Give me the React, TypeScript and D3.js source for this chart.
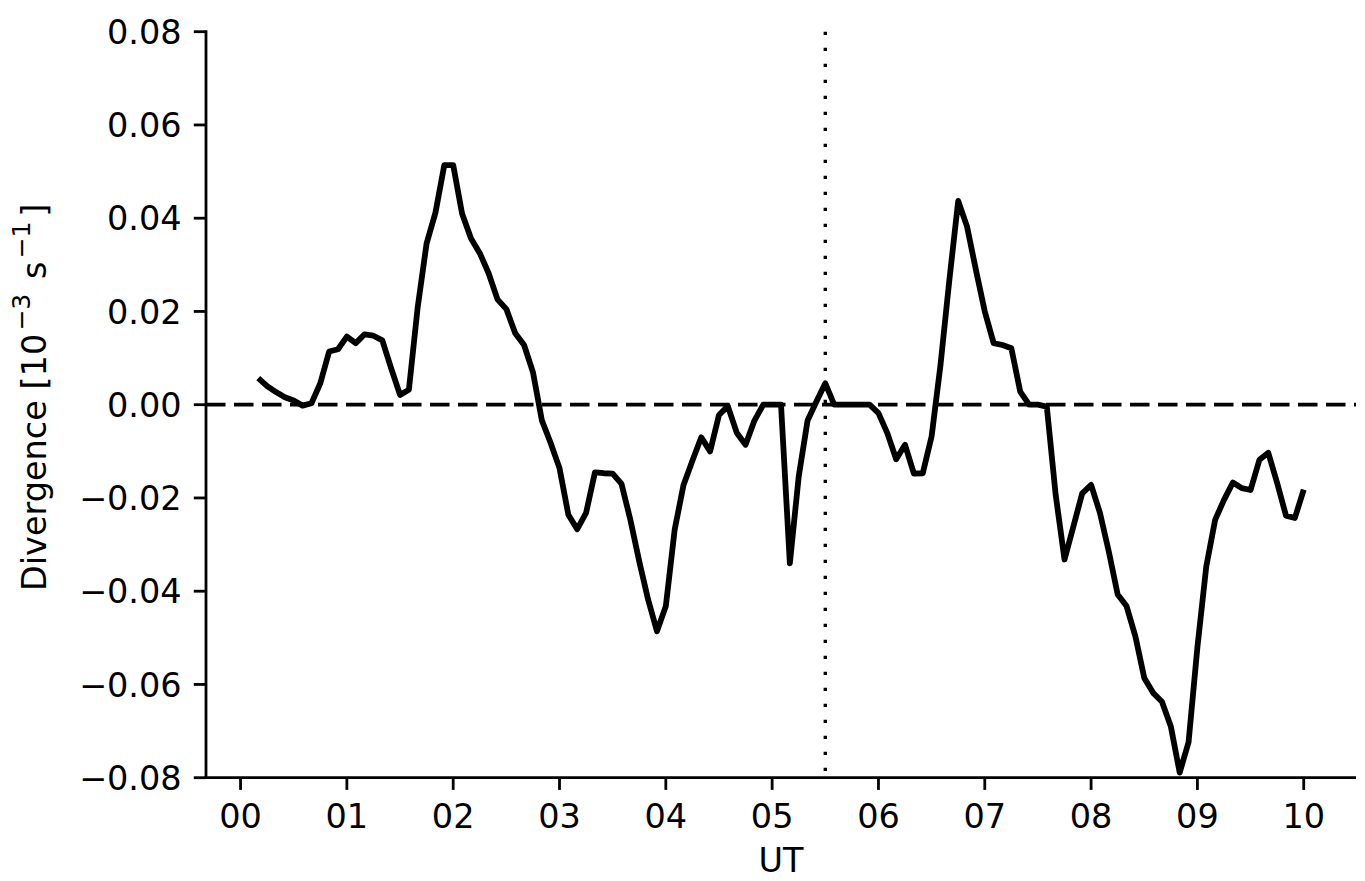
import React from "react";
import * as d3 from "d3";

// time in minutes UT, every 5 minutes from 00:10 to 10:00
const minutes: number[] = d3.range(10, 605, 5);
// divergence values [10^-3 s^-1]
const divergence: number[] = [
  0.0057, 0.0040, 0.0027, 0.0016, 0.0009, -0.0002, 0.0003, 0.0046, 0.0114, 0.0119,
  0.0146, 0.0132, 0.0151, 0.0148, 0.0138, 0.0078, 0.0021, 0.0032, 0.0210, 0.0346,
  0.0412, 0.0514, 0.0514, 0.0410, 0.0357, 0.0325, 0.0282, 0.0226, 0.0205, 0.0153,
  0.0128, 0.0070, -0.0033, -0.0082, -0.0136, -0.0236, -0.0267, -0.0232, -0.0145, -0.0147,
  -0.0148, -0.0170, -0.0247, -0.0336, -0.0418, -0.0486, -0.0432, -0.0268, -0.0172, -0.0120,
  -0.0070, -0.0100, -0.0022, -0.0003, -0.0060, -0.0086, -0.0034, 0.0, 0.0, 0.0,
  -0.0340, -0.0154, -0.0034, 0.0007, 0.0046, 0.0, 0.0, 0.0, 0.0, 0.0,
  -0.0018, -0.0061, -0.0117, -0.0086, -0.0148, -0.0147, -0.0068, 0.0085, 0.0267, 0.0437,
  0.0382, 0.0289, 0.0200, 0.0132, 0.0128, 0.0121, 0.0028, 0.0, 0.0, -0.0004,
  -0.0193, -0.0332, -0.0261, -0.0190, -0.0172, -0.0232, -0.0315, -0.0407, -0.0432, -0.0497,
  -0.0586, -0.0618, -0.0637, -0.0690, -0.0789, -0.0724, -0.0520, -0.0347, -0.0247, -0.0204,
  -0.0167, -0.0179, -0.0183, -0.0118, -0.0103, -0.0168, -0.0238, -0.0243, -0.0182,
];
const xTickMinutes: number[] = [0, 60, 120, 180, 240, 300, 360, 420, 480, 540, 600];
const xTickLabels: string[] = ["00", "01", "02", "03", "04", "05", "06", "07", "08", "09", "10"];
const yTicks: number[] = [-0.08, -0.06, -0.04, -0.02, 0, 0.02, 0.04, 0.06, 0.08];
const markerMinute = 330;

const W = 1365;
const H = 881;
const left = 206;
const right = 1356;
const top = 31.7;
const bottom = 777.7;
const FONT = "'DejaVu Sans', sans-serif";
const FS = 33.5;

export default function App() {
  const span = minutes[minutes.length - 1] - minutes[0];
  const x = d3
    .scaleLinear()
    .domain([minutes[0] - 0.05 * span, minutes[minutes.length - 1] + 0.05 * span])
    .range([left, right]);
  const y = d3.scaleLinear().domain([-0.08, 0.08]).range([bottom, top]);
  const line = d3
    .line<number>()
    .x((_, i) => x(minutes[i]))
    .y((d) => y(d));
  const fmt = (v: number) => {
    const s = Math.abs(v).toFixed(2);
    return v < -1e-9 ? "\u2212" + s : s;
  };
  const tick = 12.2;
  const pad = 12.2;
  const sup = FS * 0.75;
  return (
    <svg
      width={W}
      height={H}
      style={{ position: "absolute", left: 0, top: 0, display: "block", background: "#fff" }}
      fontFamily={FONT}
    >
      <rect x={0} y={0} width={W} height={H} fill="#fff" />
      {/* zero line */}
      <line
        x1={left}
        x2={right}
        y1={y(0)}
        y2={y(0)}
        stroke="#000"
        strokeWidth={3.8}
        strokeDasharray="19.5,8.5"
      />
      {/* vertical dotted line */}
      <line
        x1={x(markerMinute)}
        x2={x(markerMinute)}
        y1={top}
        y2={bottom}
        stroke="#000"
        strokeWidth={3.4}
        strokeDasharray="3.4,12.6"
      />
      {/* data */}
      <path
        d={line(divergence) || ""}
        fill="none"
        stroke="#000"
        strokeWidth={5.8}
        strokeLinejoin="round"
      />
      {/* spines */}
      <line x1={left} x2={left} y1={top - 1.4} y2={bottom + 1.4} stroke="#000" strokeWidth={2.8} />
      <line x1={left - 1.4} x2={right} y1={bottom} y2={bottom} stroke="#000" strokeWidth={2.8} />
      {/* y ticks */}
      {yTicks.map((v) => (
        <g key={"y" + v}>
          <line x1={left - tick} x2={left} y1={y(v)} y2={y(v)} stroke="#000" strokeWidth={2.8} />
          <text
            x={left - tick - pad}
            y={y(v)}
            dy="0.36em"
            textAnchor="end"
            fontSize={FS}
            fill="#000"
          >
            {fmt(v)}
          </text>
        </g>
      ))}
      {/* x ticks */}
      {xTickMinutes.map((m, i) => (
        <g key={"x" + m}>
          <line x1={x(m)} x2={x(m)} y1={bottom} y2={bottom + tick} stroke="#000" strokeWidth={2.8} />
          <text x={x(m)} y={828} textAnchor="middle" fontSize={FS} fill="#000">
            {xTickLabels[i]}
          </text>
        </g>
      ))}
      {/* axis labels */}
      <text x={(left + right) / 2} y={872} textAnchor="middle" fontSize={FS} fill="#000">
        UT
      </text>
      <text
        transform={`translate(46, 591) rotate(-90)`}
        textAnchor="start"
        fontSize={FS}
        fill="#000"
      >
        Divergence [10
        <tspan fontSize={sup} dy={-FS * 0.48} dx={3}>
          {"\u22123"}
        </tspan>
        <tspan dy={FS * 0.48} dx={4}>{"\u00a0s"}</tspan>
        <tspan fontSize={sup} dy={-FS * 0.48} dx={3}>
          {"\u22121"}
        </tspan>
        <tspan dy={FS * 0.48} dx={5}>]</tspan>
      </text>
    </svg>
  );
}
